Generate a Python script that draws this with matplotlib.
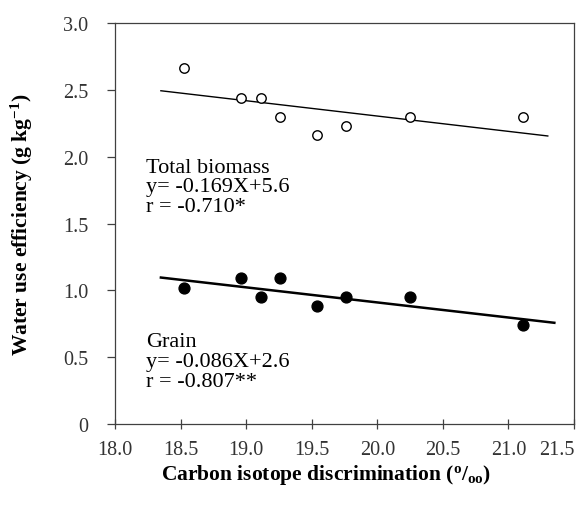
import numpy as np
import matplotlib.pyplot as plt

plt.rcParams['font.family'] = ['Liberation Serif', 'DejaVu Serif']
plt.rcParams['mathtext.default'] = 'regular'

# carbon isotope discrimination (per mil)
cid = [18.53, 18.96, 19.11, 19.26, 19.54, 19.76, 20.25, 21.11]
# water use efficiency, total biomass (open) and grain (filled)
wue_biomass = [2.66, 2.44, 2.44, 2.30, 2.16, 2.23, 2.30, 2.30]
wue_grain = [1.02, 1.09, 0.95, 1.09, 0.88, 0.95, 0.95, 0.74]

xticks = [18.0, 18.5, 19.0, 19.5, 20.0, 20.5, 21.0, 21.5]
yticks = [0, 0.5, 1.0, 1.5, 2.0, 2.5, 3.0]
ytick_labels = ['0', '0.5', '1.0', '1.5', '2.0', '2.5', '3.0']

fig = plt.figure(figsize=(5.79, 5.06), dpi=100)
ax = fig.add_axes([0.1986, 0.160, 0.7928, 0.7926])

# trend lines (least squares on the plotted points)
b1 = np.polyfit(cid, wue_biomass, 1)
xl1 = np.array([18.35, 21.3])
ax.plot(xl1, np.polyval(b1, xl1), color='black', lw=1.0, zorder=2)

b2 = np.polyfit(cid, wue_grain, 1)
xl2 = np.array([18.35, 21.35])
ax.plot(xl2, np.polyval(b2, xl2), color='black', lw=1.8, zorder=2)

ax.plot(cid, wue_biomass, 'o', ms=6.8, mfc='white', mec='black', mew=1.0, zorder=3)
ax.plot(cid, wue_grain, 'o', ms=7.8, mfc='black', mec='black', zorder=3)

ax.text(18.24, 1.593, 'Total biomass\ny= -0.169X+5.6\nr = -0.710*', fontsize=16,
        va='baseline', ha='left', linespacing=1.05, multialignment='left')
ax.text(18.24, 0.286, 'Grain\ny= -0.086X+2.6\nr = -0.807**', fontsize=16,
        va='baseline', ha='left', linespacing=1.05, multialignment='left')

ax.set_xlim(18.0, 21.5)
ax.set_ylim(0, 3.0)
ax.set_xticks(xticks)
ax.set_xticklabels(['%.1f' % t for t in xticks])
ax.set_yticks(yticks)
ax.set_yticklabels(ytick_labels)
ax.get_xticklabels()[-1].set_horizontalalignment('right')

for s in ax.spines.values():
    s.set_color('#404040')
    s.set_linewidth(0.9)

ax.tick_params(axis='x', direction='inout', length=7, width=0.9, color='#404040',
               labelsize=14.5, labelcolor='#333333', pad=8)
ax.tick_params(axis='y', direction='out', length=6, width=0.9, color='#404040',
               labelsize=14.5, labelcolor='#333333', pad=13)

ax.set_xlabel('Carbon isotope discrimination ($^{o}$/$_{oo}$)', fontsize=15.5,
              fontweight='bold', va='top')
ax.xaxis.set_label_coords(0.459, -0.095)
ax.set_ylabel('Water use efficiency (g kg$^{-1}$)', fontsize=15.5, fontweight='bold')
ax.yaxis.set_label_coords(-0.175, 0.5)

fig.savefig('out.png', dpi=100)
